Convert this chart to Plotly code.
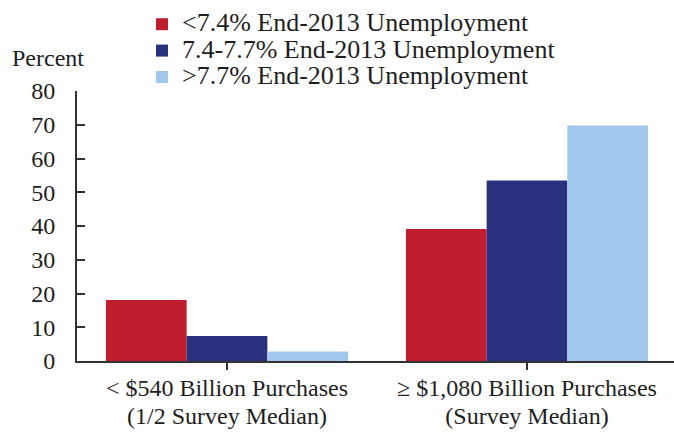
import plotly.graph_objects as go

categories = ["< $540 Billion Purchases", "≥ $1,080 Billion Purchases"]
subtitles = ["(1/2 Survey Median)", "(Survey Median)"]
series_names = ["<7.4% End-2013 Unemployment",
                "7.4-7.7% End-2013 Unemployment",
                ">7.7% End-2013 Unemployment"]
low_unemp = [18.1, 39.1]
mid_unemp = [7.4, 53.5]
high_unemp = [2.8, 69.8]
colors = ["#BE1E2D", "#29317F", "#A1C8EA"]
y_ticks = [0, 10, 20, 30, 40, 50, 60, 70, 80]

FONT = "Liberation Serif, Times New Roman, serif"
AX = "#333333"


def big(s, size=24):
    s = s.replace("<", "&lt;").replace(">", "&gt;")
    return f'<span style="font-size:{size}px">{s}</span>'


ticktext = [big(c) + "<br>" + big(s) for c, s in zip(categories, subtitles)]

fig = go.Figure()
for name, vals, col in zip(series_names, [low_unemp, mid_unemp, high_unemp], colors):
    fig.add_trace(go.Bar(x=[0, 1], y=vals, name=big(name, 26),
                         marker=dict(color=col, line=dict(width=0))))

fig.update_layout(
    width=674, height=432,
    margin=dict(l=77, r=0, t=91, b=71, pad=0, autoexpand=False),
    paper_bgcolor="white", plot_bgcolor="white",
    font=dict(family=FONT, size=24, color="#1e1e1e"),
    barmode="group", bargap=0.193, bargroupgap=0,
    legend=dict(xref="container", yref="container", x=142/674, y=1 - 6/432,
                xanchor="left", yanchor="top", font=dict(size=18),
                bgcolor="rgba(0,0,0,0)", borderwidth=0, itemwidth=30,
                tracegroupgap=0),
    showlegend=True,
    xaxis=dict(range=[-0.5, 1.49], tickmode="array", tickvals=[0, 1],
               ticktext=ticktext, tickson="boundaries", ticks="outside",
               ticklen=7, tickwidth=2, tickcolor=AX, showline=True,
               linecolor=AX, linewidth=2, showgrid=False, zeroline=False,
               tickfont=dict(size=21.5)),
    yaxis=dict(range=[0, 80], tickmode="array", tickvals=y_ticks,
               ticks="inside", ticklen=8, tickwidth=2, tickcolor=AX,
               showline=True, linecolor=AX, linewidth=2, showgrid=False,
               zeroline=False, ticklabelstandoff=15, tickfont=dict(size=24)),
    annotations=[dict(text="Percent", xref="paper", yref="paper",
                      x=(10 - 77) / 597, y=(361 - 58) / 270,
                      xanchor="left", yanchor="middle", showarrow=False,
                      font=dict(size=24))],
)

fig.write_html("out.html",
               config={"displayModeBar": False},
               post_script="document.body.style.margin='0';"
                           "document.body.style.overflow='hidden';")
